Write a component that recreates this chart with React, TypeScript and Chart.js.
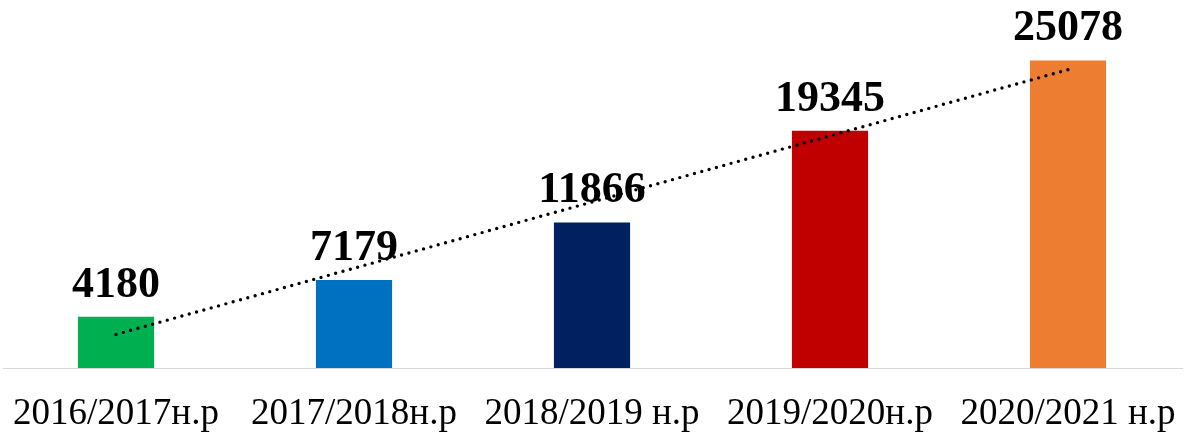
import React, { useEffect, useRef } from "react";
import { Chart, registerables } from "chart.js";

Chart.register(...registerables);

const categories = ["2016/2017н.р", "2017/2018н.р", "2018/2019 н.р", "2019/2020н.р", "2020/2021 н.р"];
const values = [4180, 7179, 11866, 19345, 25078];
const barColors = ["#00b050", "#0070c0", "#002060", "#c00000", "#ed7d31"];
const trendValues = [2740, null, null, null, 24320];
const yMax = 30000;

const valueLabels = {
  id: "valueLabels",
  afterDatasetsDraw(chart: any) {
    const ctx = chart.ctx;
    const meta = chart.getDatasetMeta(0);
    ctx.save();
    ctx.font = "bold 44px 'Liberation Serif', 'Times New Roman', serif";
    ctx.fillStyle = "#000000";
    ctx.textAlign = "center";
    ctx.textBaseline = "alphabetic";
    meta.data.forEach((bar: any, i: number) => {
      ctx.fillText(String(values[i]), bar.x, bar.y - 20);
    });
    ctx.restore();
  },
};

const baseLine = {
  id: "baseLine",
  beforeDatasetsDraw(chart: any) {
    const ctx = chart.ctx;
    const y = Math.round(chart.scales.y.getPixelForValue(0)) + 0.5;
    const area = chart.chartArea;
    ctx.save();
    ctx.strokeStyle = "#d9d9d9";
    ctx.lineWidth = 1;
    ctx.beginPath();
    ctx.moveTo(area.left + 6, y);
    ctx.lineTo(area.right - 4, y);
    ctx.stroke();
    ctx.restore();
  },
};

export default function App() {
  const ref = useRef<HTMLCanvasElement | null>(null);

  useEffect(() => {
    if (!ref.current) return;
    const chart = new Chart(ref.current, {
      type: "bar",
      data: {
        labels: categories,
        datasets: [
          {
            type: "bar",
            data: values,
            backgroundColor: barColors,
            borderWidth: 0,
            barPercentage: 0.32,
            categoryPercentage: 1,
            order: 1,
          } as any,
          {
            type: "line",
            data: trendValues,
            borderColor: "#000000",
            borderWidth: 3.4,
            borderDash: [0, 7.6],
            borderCapStyle: "round",
            spanGaps: true,
            pointRadius: 0,
            fill: false,
            order: 0,
          } as any,
        ],
      },
      options: {
        animation: false,
        responsive: false,
        maintainAspectRatio: false,
        layout: { padding: { top: 0, bottom: 0, left: 0, right: 0 } },
        plugins: {
          legend: { display: false },
          tooltip: { enabled: false },
        },
        scales: {
          x: {
            grid: { display: false },
            border: { display: false },
            ticks: {
              padding: 20,
              color: "#000000",
              maxRotation: 0,
              autoSkip: false,
              font: { family: "'Liberation Serif', 'Times New Roman', serif", size: 37, lineHeight: 1 },
            },
            afterFit: (scale: any) => {
              scale.paddingLeft = 0;
              scale.paddingRight = 0;
              scale.height = 64;
            },
          },
          y: {
            display: false,
            min: 0,
            max: yMax,
          },
        },
      },
      plugins: [valueLabels, baseLine],
    });
    return () => chart.destroy();
  }, []);

  return (
    <div style={{ position: "absolute", left: -3, top: 0, width: 1190, height: 432, background: "#ffffff" }}>
      <canvas ref={ref} width={1190} height={432} style={{ display: "block" }} />
    </div>
  );
}
